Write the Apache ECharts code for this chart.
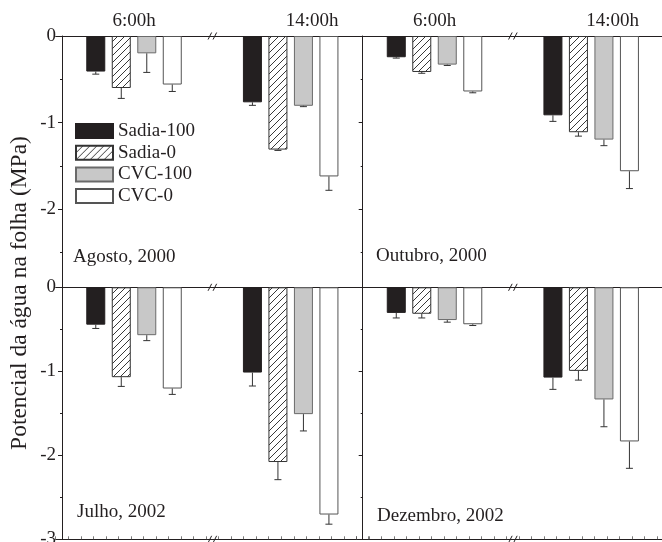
<!DOCTYPE html>
<html><head><meta charset="utf-8">
<script src="https://cdn.jsdelivr.net/npm/echarts@6/dist/echarts.min.js"></script>
<style>html,body{margin:0;padding:0;background:#fff}#c{width:662px;height:542px}</style>
</head><body><div id="c"></div>
<script>
// ---------------- DATA ----------------
const categories = ['6:00h', '14:00h'];
const seriesNames = ['Sadia-100', 'Sadia-0', 'CVC-100', 'CVC-0'];
const panelTitles = ['Agosto, 2000', 'Outubro, 2000', 'Julho, 2002', 'Dezembro, 2002'];
const yTitle = 'Potencial da água na folha (MPa)';
const majorTickValues = [0, -1, -2, -3];
const minorTickValues = [-0.5, -1.5, -2.5];

// each row: one series, [6:00h, 14:00h]
const agostoValues   = [[-0.41, -0.765], [-0.60, -1.31], [-0.20, -0.805], [-0.56, -1.62]];
const agostoErrors   = [[0.03, 0.035], [0.12, 0.01], [0.22, 0.01], [0.08, 0.16]];
const outubroValues  = [[-0.245, -0.915], [-0.415, -1.11], [-0.33, -1.195], [-0.64, -1.56]];
const outubroErrors  = [[0.01, 0.07], [0.015, 0.045], [0.01, 0.07], [0.015, 0.20]];
const julhoValues    = [[-0.445, -1.015], [-1.07, -2.08], [-0.57, -1.51], [-1.205, -2.705]];
const julhoErrors    = [[0.045, 0.16], [0.11, 0.21], [0.065, 0.20], [0.07, 0.115]];
const dezembroValues = [[-0.305, -1.075], [-0.315, -0.995], [-0.39, -1.335], [-0.44, -1.835]];
const dezembroErrors = [[0.06, 0.14], [0.05, 0.11], [0.025, 0.325], [0.015, 0.32]];

const panelValues = [agostoValues, outubroValues, julhoValues, dezembroValues];
const panelErrors = [agostoErrors, outubroErrors, julhoErrors, dezembroErrors];
const panelMin = [-2.9, -2.9, -3, -3];

// ---------------- STYLE / LAYOUT ----------------
const FONT = "'Liberation Serif', 'Times New Roman', 'DejaVu Serif', serif";
const INK = '#231f20';
const BAR_W = 19;
const BAR_GAP = 0.342;
const STEP = BAR_W * (1 + BAR_GAP);

function hatch() {
  const c = document.createElement('canvas');
  c.width = 7; c.height = 7;
  const g = c.getContext('2d');
  g.fillStyle = '#fff'; g.fillRect(0, 0, 7, 7);
  g.strokeStyle = '#222'; g.lineWidth = 0.9;
  g.beginPath();
  g.moveTo(0, 7); g.lineTo(7, 0);
  g.moveTo(-1, 1); g.lineTo(1, -1);
  g.moveTo(6, 8); g.lineTo(8, 6);
  g.stroke();
  return c;
}
const barStyles = [
  { color: '#231f20', borderColor: '#231f20', borderWidth: 1 },
  { color: { image: hatch(), repeat: 'repeat' }, borderColor: '#333', borderWidth: 1 },
  { color: '#c8c8c8', borderColor: '#6a6a6a', borderWidth: 1 },
  { color: '#ffffff', borderColor: '#555', borderWidth: 1 }
];

const GW = 313.3;
const gridsPos = [
  { left: 55.7, top: 36, width: GW, height: 251.4, axisX: 62 },
  { left: 356.2, top: 36, width: GW, height: 251.4, axisX: 362.7 },
  { left: 55.7, top: 287.3, width: GW, height: 252, axisX: 62 },
  { left: 356.2, top: 287.3, width: GW, height: 252, axisX: 362.7 }
];

const grid = gridsPos.map(g => ({ left: g.left, top: g.top, width: g.width, height: g.height,
  containLabel: false, outerBoundsMode: 'none' }));

const lineStyle = { color: INK, width: 1 };
const xAxis = [];
gridsPos.forEach((g, p) => {
  xAxis.push({
    type: 'category', gridIndex: p, position: 'top',
    data: categories.map((c, i) => i === 1 ? { value: c, textStyle: { padding: [0, 0, 0, 43] } } : { value: c }),
    axisLine: { show: true, onZero: false, lineStyle },
    axisTick: { show: false },
    axisLabel: { show: p < 2, fontSize: 19, fontFamily: FONT, color: INK, margin: 5 },
    splitLine: { show: false }
  });
});
[2, 3].forEach(p => {
  xAxis.push({
    type: 'value', gridIndex: p, position: 'bottom', min: 0, max: 25, interval: 1,
    axisLine: { show: true, onZero: false, lineStyle },
    axisTick: { show: true, inside: true, length: 3, lineStyle: { color: '#555', width: 0.8 } },
    axisLabel: { show: false }, splitLine: { show: false }
  });
});

const yAxis = [];
gridsPos.forEach((g, p) => {
  const min = panelMin[p];
  const off = g.left - g.axisX;
  const majors = majorTickValues.filter(v => v >= min);
  const minors = minorTickValues.filter(v => v >= min);
  yAxis.push({
    type: 'value', gridIndex: p, position: 'left', min: min, max: 0, offset: off,
    axisLine: { show: true, onZero: false, lineStyle },
    axisTick: { show: true, length: 4, customValues: majors, lineStyle },
    axisLabel: { show: p % 2 === 0, customValues: majors, fontSize: 19, fontFamily: FONT, color: INK, margin: 6,
                 showMinLabel: true, showMaxLabel: true },
    splitLine: { show: false }
  });
  yAxis.push({
    type: 'value', gridIndex: p, position: 'left', min: min, max: 0, offset: off,
    axisLine: { show: false },
    axisTick: { show: true, length: 2, customValues: minors, lineStyle },
    axisLabel: { show: false },
    splitLine: { show: false }
  });
});

const series = [];
panelValues.forEach((vals, p) => {
  vals.forEach((row, s) => {
    series.push({
      type: 'bar', name: seriesNames[s], xAxisIndex: p, yAxisIndex: 2 * p,
      data: row, barWidth: BAR_W, barGap: (BAR_GAP * 100) + '%',
      itemStyle: barStyles[s], z: 2, silent: true
    });
  });
  vals.forEach((row, s) => {
    const errs = panelErrors[p][s];
    const offset = (s - 1.5) * STEP;
    series.push({
      type: 'custom', xAxisIndex: p, yAxisIndex: 2 * p, z: 3, silent: true,
      encode: { x: 0, y: 1 },
      data: row.map((v, i) => [i, v, errs[i]]),
      renderItem: function (params, api) {
        const x = api.value(0), v = api.value(1), e = api.value(2);
        const p0 = api.coord([x, v]);
        const p1 = api.coord([x, v - e]);
        const cx = p0[0] + offset;
        const st = { stroke: '#333', lineWidth: 1 };
        return { type: 'group', children: [
          { type: 'line', shape: { x1: cx, y1: p0[1], x2: cx, y2: p1[1] }, style: st },
          { type: 'line', shape: { x1: cx - 3.5, y1: p1[1], x2: cx + 3.5, y2: p1[1] }, style: st }
        ]};
      }
    });
  });
});

// decorations: axis-break marks, panel labels, y title
const graphic = [];
const breakYs = [36, 287.3, 539.3];
[gridsPos[0], gridsPos[1]].forEach(g => {
  const cx = g.left + g.width / 2;
  breakYs.forEach(y => {
    [-2.5, 2.5].forEach(dx => {
      graphic.push({ type: 'line', silent: true, z: 10,
        shape: { x1: cx + dx - 1.8, y1: y + 3.5, x2: cx + dx + 1.8, y2: y - 3.5 },
        style: { stroke: INK, lineWidth: 1 } });
    });
  });
});
const titlePos = [[73, 257], [376, 256], [77, 512], [377, 516]];
panelTitles.forEach((t, i) => {
  graphic.push({ type: 'text', x: titlePos[i][0], y: titlePos[i][1], silent: true,
    style: { text: t, fontSize: 19, fontFamily: FONT, fill: INK, textAlign: 'left', textVerticalAlign: 'middle' } });
});
graphic.push({ type: 'text', x: 20, y: 293, rotation: Math.PI / 2, silent: true,
  style: { text: yTitle, fontSize: 23.5, fontFamily: FONT, fill: INK, textAlign: 'center', textVerticalAlign: 'middle' } });

const chart = echarts.init(document.getElementById('c'), null, { renderer: 'canvas' });
chart.setOption({
  animation: false,
  backgroundColor: '#fff',
  grid, xAxis, yAxis, series, graphic,
  legend: {
    data: seriesNames, orient: 'vertical', left: 75, top: 121.5, padding: 0,
    itemWidth: 37, itemHeight: 14, itemGap: 2.7, icon: 'rect', selectedMode: false,
    textStyle: { fontSize: 19, fontFamily: FONT, color: INK }
  }
});
</script></body></html>
